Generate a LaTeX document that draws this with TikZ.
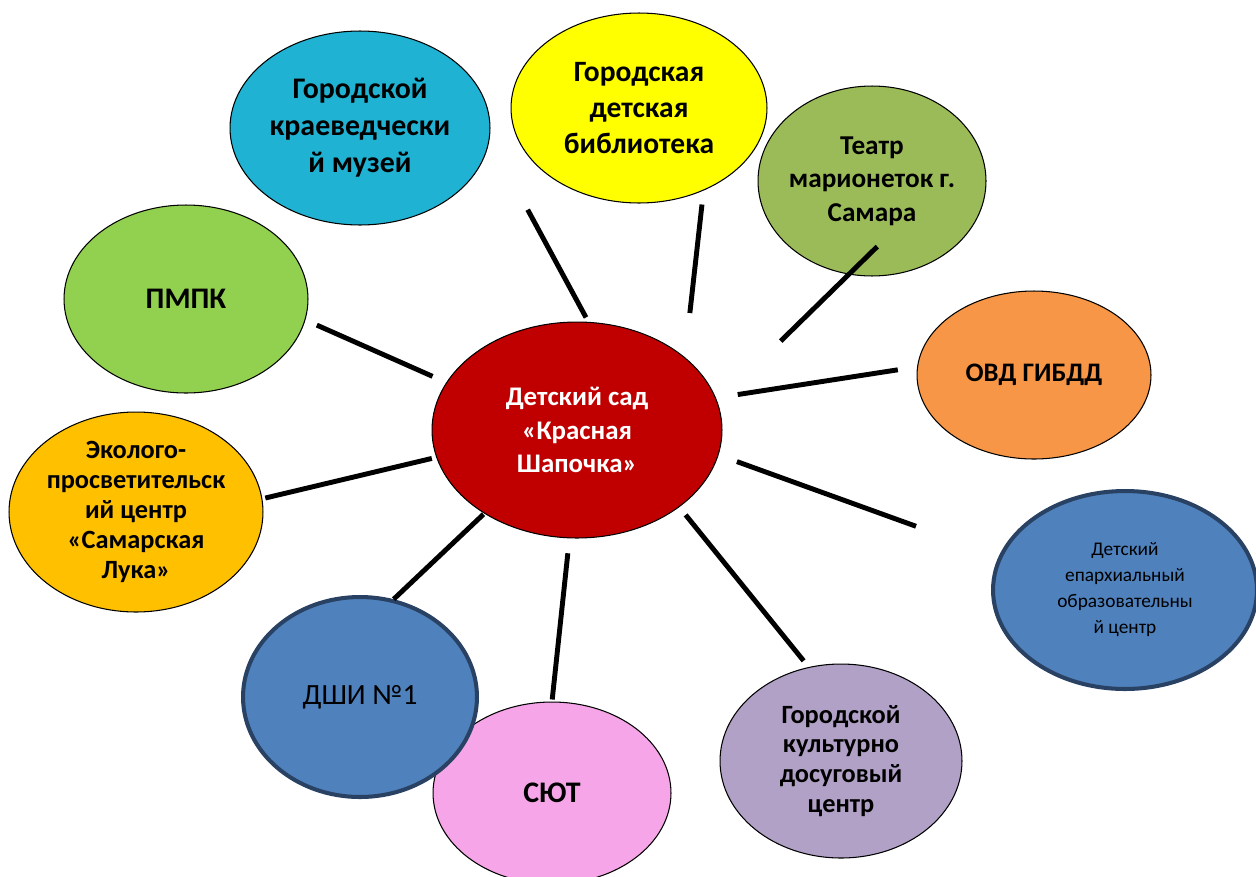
\documentclass[tikz,border=0pt]{standalone}
\usepackage{fontspec}
\setmainfont{Carlito}
\usetikzlibrary{shapes.geometric}
\definecolor{sadred}{RGB}{192,0,0}
\definecolor{museumblue}{RGB}{31,178,210}
\definecolor{libyellow}{RGB}{255,255,0}
\definecolor{theatregreen}{RGB}{155,187,89}
\definecolor{pmpkgreen}{RGB}{146,208,80}
\definecolor{gibddorange}{RGB}{247,150,70}
\definecolor{ecogold}{RGB}{255,192,0}
\definecolor{officeblue}{RGB}{79,129,189}
\definecolor{blueedge}{RGB}{41,66,99}
\definecolor{syutpink}{RGB}{246,166,232}
\definecolor{kultlilac}{RGB}{178,161,199}
\begin{document}
\begin{tikzpicture}[x=0.02cm, y=-0.02cm,
    org/.style={ellipse, draw=black, line width=0.6pt, inner sep=-3pt, align=center,
      font=\bfseries\fontsize{17}{21}\selectfont},
    orgblue/.style={org, draw=blueedge, line width=2.3pt, fill=officeblue},
    spoke/.style={line width=2.8pt, black}]
  \useasboundingbox (0,0) rectangle (1256,876);

  % Детский сад в центре
  \node[org, fill=sadred, text=white, minimum width=5.8cm, minimum height=4.32cm,
    font=\bfseries\fontsize{15.3}{19.3}\selectfont] (sad) at (577,430) {Детский сад\\ «Красная\\Шапочка»};

  % Партнёры вокруг
  \node[org, fill=museumblue, minimum width=5.2cm, minimum height=3.88cm] (muzej) at (360,128)
    {Городской\\краеведчески\\й музей};
  \node[org, fill=libyellow, minimum width=5.12cm, minimum height=3.8cm,
    font=\bfseries\fontsize{16.8}{20.3}\selectfont] (bibl) at (639,108) {Городская\\детская\\библиотека};
  \node[org, fill=theatregreen, minimum width=4.56cm, minimum height=3.8cm,
    font=\bfseries\fontsize{15.5}{19}\selectfont] (teatr) at (872,181) {Театр\\марионеток г.\\Самара};
  \node[org, fill=pmpkgreen, minimum width=4.88cm, minimum height=3.76cm] (pmpk) at (186,299) {ПМПК};
  \node[org, fill=gibddorange, minimum width=4.68cm, minimum height=3.36cm,
    font=\bfseries\fontsize{15.2}{19}\selectfont] (gibdd) at (1034,375) {ОВД ГИБДД};
  \node[org, fill=ecogold, minimum width=5.08cm, minimum height=4cm,
    font=\bfseries\fontsize{15}{17}\selectfont] (eko) at (136,512)
    {Эколого-\\просветительск\\ий центр\\«Самарская\\Лука»};
  \node[orgblue, minimum width=5.28cm, minimum height=3.96cm,
    font=\fontsize{11}{14.8}\selectfont] (eparh) at (1125,590)
    {Детский\\епархиальный\\образовательны\\й центр};
  \node[org, fill=syutpink, minimum width=4.76cm, minimum height=3.64cm] (syut) at (552,793) {СЮТ};
  \node[orgblue, minimum width=4.68cm, minimum height=4cm,
    font=\fontsize{16.7}{20}\selectfont] (dshi) at (360,697) {ДШИ №1};
  \node[org, fill=kultlilac, minimum width=4.84cm, minimum height=3.88cm,
    font=\bfseries\fontsize{15}{17}\selectfont] (kdc) at (841,761)
    {Городской\\культурно\\досуговый\\центр};

  % Лучи от центра
  \draw[spoke, shorten <=0.30cm, shorten >=0.25cm] (sad.160.3) -- (pmpk.-10.4);
  \draw[spoke, shorten <=0.09cm, shorten >=0.06cm] (sad.-169.5) -- (eko.6.3);
  \draw[spoke, shorten <=0.02cm] (sad.-138.9) -- (dshi.71.4);
  \draw[spoke, shorten <=0.30cm, shorten >=0.04cm] (sad.-94.2) -- (syut.90);
  \draw[spoke, shorten <=0.20cm, shorten >=0.16cm] (sad.-37) -- (kdc.109.6);
  \draw[spoke, shorten <=0.39cm, shorten >=1.76cm] (sad.-10.6) -- (eparh.165.4);
  \draw[spoke, shorten <=0.44cm, shorten >=0.39cm] (sad.13) -- (gibdd.176.6);
  \draw[spoke, shorten <=1.76cm, shorten >=-0.80cm] (sad.11.6) -- (teatr.-104.4);
  \draw[spoke, shorten <=0.89cm, shorten >=0.28cm] (sad.34.8) -- (bibl.-52.9);
  \draw[spoke, shorten <=0.10cm, shorten >=1.60cm] (sad.84.5) -- (muzej.-5);
\end{tikzpicture}
\end{document}
